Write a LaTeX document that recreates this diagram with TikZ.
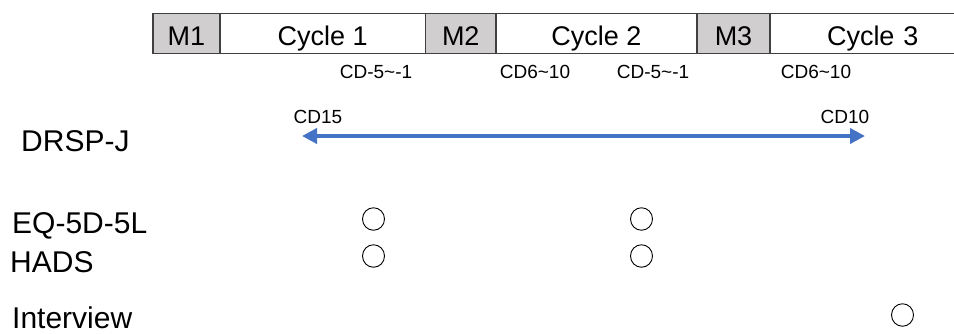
\documentclass[tikz,border=0pt]{standalone}
\usepackage{fontspec}
\setmainfont{Liberation Sans}
\usetikzlibrary{positioning,arrows.meta,shapes.geometric}
\definecolor{mgray}{RGB}{208,206,206}
\definecolor{barline}{RGB}{64,64,64}
\definecolor{myblue}{RGB}{68,114,196}

\tikzset{
    period/.style={draw=barline, line width=1.3pt, inner sep=0pt, outer sep=0pt,
        minimum height=40pt, text height=23pt, text depth=0pt,
        font=\fontsize{27}{30}\selectfont},
    mens/.style={period, fill=mgray},
    cdlabel/.style={anchor=base, inner sep=0pt, font=\fontsize{19}{21}\selectfont},
    rowlabel/.style={anchor=base west, inner sep=0pt, font=\fontsize{30}{33}\selectfont},
    ticked/.style={draw=black, line width=0.9pt, ellipse, inner sep=0pt,
        minimum width=22pt, minimum height=22.5pt},
}

\begin{document}
\begin{tikzpicture}[x=1pt, y=-1pt]
    \useasboundingbox (0,0) rectangle (954,333);
    % Cycles
    \node[mens, minimum width=67pt] (M1) at (186.5,33.5) {M1};
    \node[period, minimum width=205.5pt, right=0pt of M1] (C1) {Cycle 1};
    \node[mens, minimum width=70.5pt, right=0pt of C1] (M2) {M2};
    \node[period, minimum width=201pt, right=0pt of M2] (C2) {Cycle 2};
    \node[mens, minimum width=73pt, right=0pt of C2] (M3) {M3};
    \node[period, minimum width=190pt, right=0pt of M3, text width=186pt, align=left]
        (C3) {\hspace*{55pt}Cycle 3};
    % Cycle days
    \node[cdlabel] (cdA) at (376,78) {CD-5\textasciitilde-1};
    \node[cdlabel] (cdB) at (535,78) {CD6\textasciitilde10};
    \node[cdlabel] (cdC) at (653,78) {CD-5\textasciitilde-1};
    \node[cdlabel] (cdD) at (816,78) {CD6\textasciitilde10};
    % DRSP-J
    \node[rowlabel] (drsp) at (21,151.5) {DRSP-J};
    \node[cdlabel] (cd15) at (318,123.5) {CD15};
    \node[cdlabel] (cd10) at (845,123.5) {CD10};
    \coordinate (drspS) at (302,136);
    \coordinate (drspE) at (865,136);
    \draw[myblue, line width=4.5pt, {Triangle[length=15pt,width=15pt]}-{Triangle[length=15pt,width=15pt]}]
        (drspS) -- (drspE);
    % Questionnaires
    \node[rowlabel] (eq) at (12,233) {EQ-5D-5L};
    \node[rowlabel] (hads) at (10,272) {HADS};
    \node[rowlabel] (intv) at (12,328) {Interview};
    \node[ticked] (eqA) at (373.5,219) {};
    \node[ticked] (eqB) at (641.5,219) {};
    \node[ticked] (hadsA) at (373.5,256) {};
    \node[ticked] (hadsB) at (641.5,256) {};
    \node[ticked] (intvA) at (902.5,315) {};
\end{tikzpicture}
\end{document}
